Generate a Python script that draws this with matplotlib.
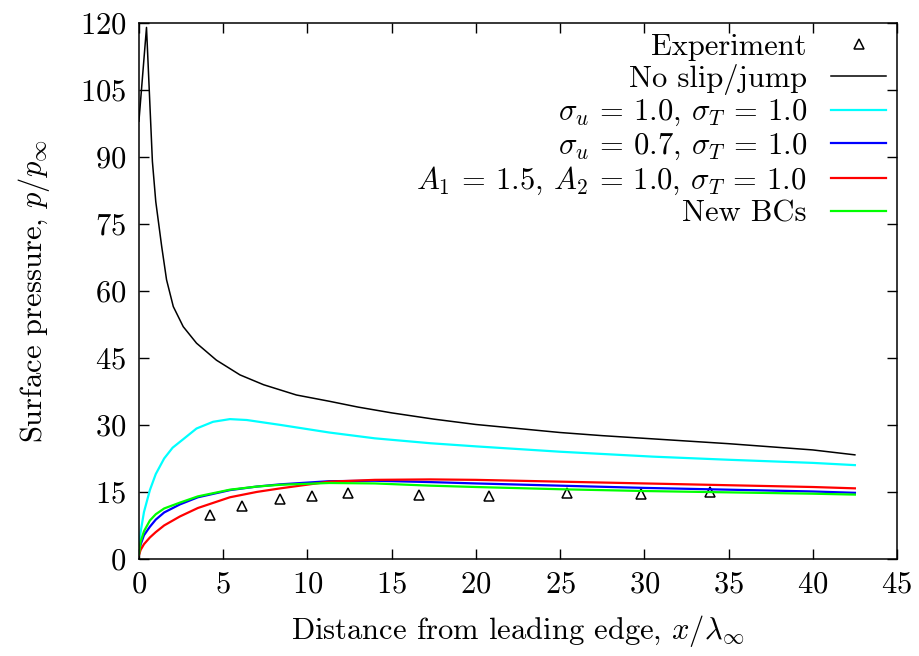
import matplotlib
matplotlib.use("Agg")
import matplotlib.pyplot as plt

plt.rcParams['font.family'] = 'serif'
plt.rcParams['font.serif'] = ['cmr10']
plt.rcParams['mathtext.fontset'] = 'cm'
plt.rcParams['axes.formatter.use_mathtext'] = True

# experiment points
x_exp = [4.2, 6.1, 8.4, 10.3, 12.4, 16.6, 20.8, 25.4, 29.8, 33.9]
p_exp = [9.9, 11.9, 13.4, 14.1, 14.8, 14.2, 14.1, 14.7, 14.5, 15.0]

# no slip/jump
x_ns = [0, 0.45, 0.8, 1.0, 1.35, 1.64, 2.04, 2.63, 3.42, 4.6, 6.0, 7.4, 9.35, 11.3, 13, 15, 17.5, 20, 22.5, 25, 27.5, 30, 32.5, 35, 37.5, 40, 42.5]
p_ns = [98, 119, 89, 80, 70, 62.5, 56.5, 52, 48.3, 44.5, 41.2, 39.0, 36.7, 35.3, 34.0, 32.7, 31.3, 30.1, 29.2, 28.3, 27.6, 27.0, 26.4, 25.8, 25.1, 24.4, 23.3]

# sigma_u = 1.0, sigma_T = 1.0
x_c = [0, 0.1, 0.3, 0.65, 1.0, 1.5, 2.0, 2.63, 3.42, 4.4, 5.4, 6.4, 8.4, 11.3, 14, 17.3, 20, 25, 30.5, 35, 40, 42.5]
p_c = [2.5, 6, 10.5, 15.4, 19.0, 22.5, 24.9, 26.8, 29.2, 30.7, 31.3, 31.1, 30.0, 28.3, 27.0, 25.9, 25.2, 24.0, 22.9, 22.2, 21.5, 21.0]

# shared grid for the lower three curves
x_low = [0, 0.1, 0.3, 0.65, 1.0, 1.5, 2.43, 3.5, 5.4, 7, 8.4, 11.3, 14, 17.3, 20, 25, 30, 35, 40, 42.5]
p_blue = [1, 3.2, 5.3, 7.2, 8.8, 10.4, 12.2, 13.8, 15.4, 16.2, 16.7, 17.4, 17.5, 17.2, 16.9, 16.4, 15.9, 15.5, 15.1, 14.8]
p_red = [0.8, 2.0, 3.3, 4.8, 6.0, 7.5, 9.5, 11.4, 13.8, 15.0, 15.8, 17.3, 17.7, 17.8, 17.7, 17.3, 16.9, 16.5, 16.1, 15.8]
p_green = [1, 3.8, 6.2, 8.6, 10.0, 11.3, 12.6, 14.0, 15.5, 16.2, 16.6, 17.0, 16.9, 16.4, 16.1, 15.6, 15.2, 14.9, 14.6, 14.4]

fig = plt.figure(figsize=(9.2, 6.56), dpi=100)
ax = fig.add_axes([0.151, 0.148, 0.824, 0.817])

ax.plot(x_exp, p_exp, linestyle='none', marker='^', ms=6.5, mfc='none', mec='black', mew=1.1, label='Experiment')
ax.plot(x_ns, p_ns, color='black', lw=1.1, label='No slip/jump')
ax.plot(x_c, p_c, color='#00ffff', lw=1.6, label=r'$\sigma_u$ = 1.0, $\sigma_T$ = 1.0')
ax.plot(x_low, p_blue, color='#0000ff', lw=1.6, label=r'$\sigma_u$ = 0.7, $\sigma_T$ = 1.0')
ax.plot(x_low, p_red, color='#ff0000', lw=1.6, label=r'$A_1$ = 1.5, $A_2$ = 1.0, $\sigma_T$ = 1.0')
ax.plot(x_low, p_green, color='#00ff00', lw=1.6, label='New BCs')

ax.set_xlim(0, 45)
ax.set_ylim(0, 120)
ax.set_xticks(range(0, 46, 5))
ax.set_yticks(range(0, 121, 15))
ax.tick_params(direction='in', top=True, right=True, labelsize=22, length=7, width=1, pad=9)
for s in ax.spines.values():
    s.set_linewidth(1.1)

ax.set_xlabel(r'Distance from leading edge, $x/\lambda_\infty$', fontsize=22, labelpad=10)
ax.set_ylabel(r'Surface pressure, $p/p_\infty$', fontsize=22, labelpad=20)

ax.legend(loc='upper right', frameon=False, markerfirst=False, fontsize=22,
          handlelength=1.8, handletextpad=0.8, labelspacing=0.1,
          borderaxespad=0.05, borderpad=0.3)

fig.savefig('out.png', dpi=100)
